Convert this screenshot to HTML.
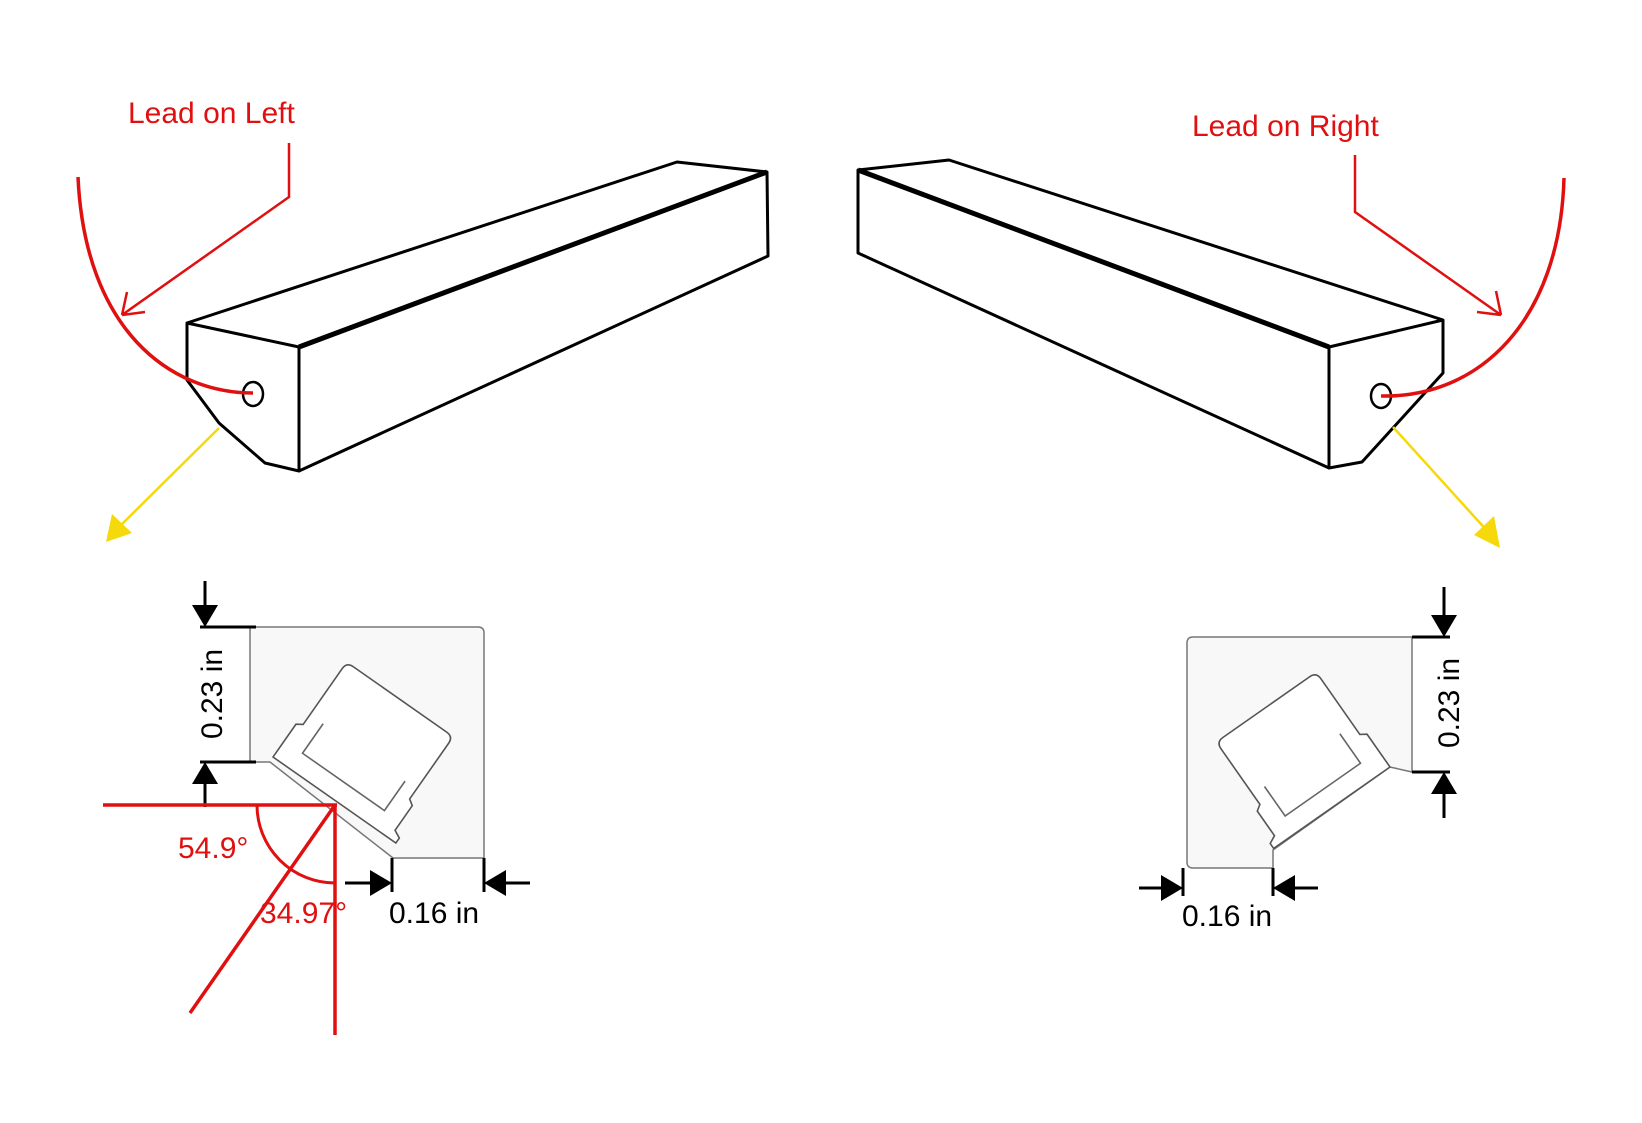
<!DOCTYPE html>
<html><head><meta charset="utf-8"><style>
html,body{margin:0;padding:0;background:#fff;}
svg{display:block;}
text{font-family:"Liberation Sans",Arial,sans-serif;}
</style></head><body>
<svg width="1642" height="1123" viewBox="0 0 1642 1123" xmlns="http://www.w3.org/2000/svg">
<rect width="1642" height="1123" fill="#fff"/>

<!-- LEFT BAR -->
<g fill="none" stroke="#000" stroke-width="3" stroke-linejoin="round">
<path d="M187,323 L187,380 L219,423 L265,463 L299,471 L299,347 Z"/>
<path d="M187,323 L677,162 L767,172 L299,347"/>
<path d="M767,172 L768,256 L299,471"/>
<path d="M299,347 L767,172" stroke-width="5"/>
<ellipse cx="253" cy="394" rx="10" ry="12" stroke-width="2.5"/>
</g>
<path d="M78,177 C 85,330 170,393 253,393" fill="none" stroke="#e01010" stroke-width="3.5"/>
<path d="M289,143 L289,197 L122,315 M122,315 L127,292 M122,315 L145,312" fill="none" stroke="#e01010" stroke-width="2.5"/>
<text x="128" y="123" font-size="30" fill="#e01010">Lead on Left</text>
<line x1="219" y1="428" x2="116" y2="530" stroke="#f5d90a" stroke-width="2.5"/>
<path d="M106,542 L112,514 L132,533 Z" fill="#f5d90a"/>

<!-- RIGHT BAR -->
<g fill="none" stroke="#000" stroke-width="3" stroke-linejoin="round">
<path d="M858,170 L949,160 L1443,320 L1329,347 Z"/>
<path d="M858,170 L858,253 L1329,468 L1362,462 L1443,373 L1443,320"/>
<path d="M1329,347 L1329,468"/>
<path d="M858,170 L1329,347" stroke-width="5"/>
<ellipse cx="1381" cy="396" rx="10" ry="12" stroke-width="2.5"/>
</g>
<path d="M1564,178 C 1560,320 1480,398 1381,396" fill="none" stroke="#e01010" stroke-width="3.5"/>
<path d="M1355,155 L1355,212 L1501,315 M1501,315 L1496,291 M1501,315 L1477,312" fill="none" stroke="#e01010" stroke-width="2.5"/>
<text x="1192" y="136" font-size="30" fill="#e01010">Lead on Right</text>
<line x1="1393" y1="427" x2="1490" y2="534" stroke="#f5d90a" stroke-width="2.5"/>
<path d="M1500,548 L1474,535 L1494,516 Z" fill="#f5d90a"/>

<!-- LEFT DETAIL -->
<path d="M250,627 L478,627 Q484,627 484,633 L484,858 L393,858 L270,762 L250,762 Z" fill="#f8f8f8" stroke="#777" stroke-width="1.5"/>
<g transform="translate(273,757) rotate(35)" fill="none" stroke="#555" stroke-width="1.6">
<path d="M0,0 L150,0 L150,-6 L142,-10 L142,-40 L136,-44 L136,-112 Q136,-120 128,-120 L14,-120 Q6,-120 6,-112 L6,-44 L0,-40 Z" fill="#fff"/>
<path d="M22,-56 L22,-20 L122,-20 L122,-56" stroke="#666"/>
</g>
<g stroke="#000" stroke-width="3" fill="#000">
<line x1="205" y1="581" x2="205" y2="610"/>
<path d="M192,605 L218,605 L205,627 Z" stroke="none"/>
<line x1="200" y1="627" x2="256" y2="627"/>
<line x1="200" y1="762" x2="256" y2="762"/>
<path d="M192,784 L218,784 L205,762 Z" stroke="none"/>
<line x1="205" y1="780" x2="205" y2="807"/>
<line x1="392" y1="858" x2="392" y2="892"/>
<line x1="484" y1="858" x2="484" y2="892"/>
<line x1="345" y1="883" x2="372" y2="883"/>
<path d="M370,870 L370,896 L392,883 Z" stroke="none"/>
<line x1="505" y1="883" x2="530" y2="883"/>
<path d="M506,870 L506,896 L484,883 Z" stroke="none"/>
</g>
<text transform="translate(222,694) rotate(-90)" font-size="30" text-anchor="middle" fill="#000">0.23 in</text>
<text x="389" y="923" font-size="30" fill="#000">0.16 in</text>
<g stroke="#e01010" stroke-width="3.5" fill="none">
<line x1="103" y1="805" x2="337" y2="805"/>
<line x1="335" y1="805" x2="335" y2="1035"/>
<line x1="335" y1="805" x2="190" y2="1013"/>
<path d="M257,805 A78,78 0 0 0 335,883" stroke-width="3"/>
</g>
<text x="178" y="858" font-size="30" fill="#e01010">54.9°</text>
<text x="260" y="923" font-size="30" fill="#e01010">34.97°</text>

<!-- RIGHT DETAIL -->
<path d="M1193,637 L1412,637 L1412,772 L1390,767 L1273,850 L1273,868 L1193,868 Q1187,868 1187,862 L1187,643 Q1187,637 1193,637 Z" fill="#f8f8f8" stroke="#777" stroke-width="1.5"/>
<g transform="translate(1390,767) scale(-1,1) rotate(35)" fill="none" stroke="#555" stroke-width="1.6">
<path d="M0,0 L142,0 L142,-6 L134,-10 L134,-40 L128,-44 L128,-112 Q128,-120 120,-120 L14,-120 Q6,-120 6,-112 L6,-44 L0,-40 Z" fill="#fff"/>
<path d="M22,-56 L22,-20 L114,-20 L114,-56" stroke="#666"/>
</g>
<g stroke="#000" stroke-width="3" fill="#000">
<line x1="1444" y1="587" x2="1444" y2="615"/>
<path d="M1431,615 L1457,615 L1444,637 Z" stroke="none"/>
<line x1="1412" y1="637" x2="1450" y2="637"/>
<line x1="1412" y1="772" x2="1450" y2="772"/>
<path d="M1431,794 L1457,794 L1444,772 Z" stroke="none"/>
<line x1="1444" y1="790" x2="1444" y2="818"/>
<line x1="1183" y1="868" x2="1183" y2="896"/>
<line x1="1273" y1="868" x2="1273" y2="896"/>
<line x1="1139" y1="888" x2="1163" y2="888"/>
<path d="M1161,875 L1161,901 L1183,888 Z" stroke="none"/>
<line x1="1293" y1="888" x2="1318" y2="888"/>
<path d="M1295,875 L1295,901 L1273,888 Z" stroke="none"/>
</g>
<text transform="translate(1459,703) rotate(-90)" font-size="30" text-anchor="middle" fill="#000">0.23 in</text>
<text x="1182" y="926" font-size="30" fill="#000">0.16 in</text>
</svg>
</body></html>
